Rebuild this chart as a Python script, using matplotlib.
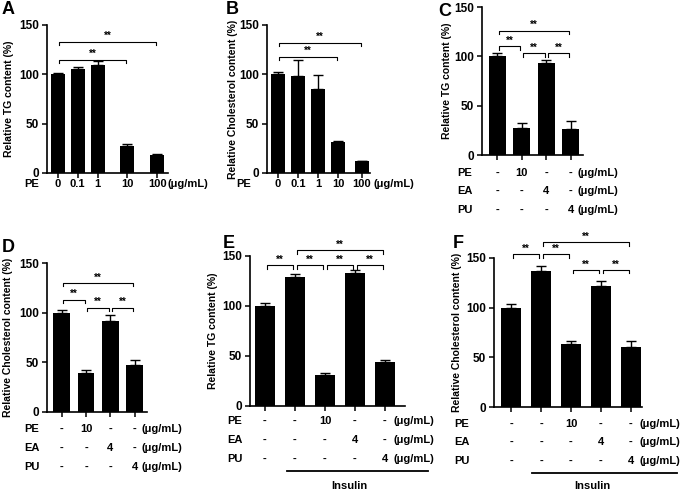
import numpy as np
import matplotlib
matplotlib.use("Agg")
import matplotlib.pyplot as plt
from matplotlib.transforms import blended_transform_factory

plt.rcParams["font.family"] = ["Liberation Sans", "DejaVu Sans"]
plt.rcParams["font.weight"] = "bold"

W, H = 680, 491
UNIT = "(\u03bcg/mL)"

# A: TG content vs PE dose
a_doses = ["0", "0.1", "1", "10", "100"]
a_vals = [100, 105, 109, 27.5, 18]
a_err = [1.5, 2, 5, 1.5, 1]
a_sig = [(0, 3, 115), (0, 4, 133)]

# B: cholesterol vs PE dose
b_doses = ["0", "0.1", "1", "10", "100"]
b_vals = [100, 98, 85, 31, 12]
b_err = [2.5, 17, 14, 1.5, 0.5]
b_sig = [(0, 3, 118), (0, 4, 132)]

# C: TG with PE / EA / PU
c_pe = ["-", "10", "-", "-"]
c_ea = ["-", "-", "4", "-"]
c_pu = ["-", "-", "-", "4"]
c_vals = [100, 27, 93, 26]
c_err = [3, 5, 3, 8]
c_sig = [(0, 1, 110), (1, 2, 103), (2, 3, 103), (0, 3, 126)]

# D: cholesterol with PE / EA / PU
d_vals = [100, 39, 92, 47]
d_err = [3, 3, 6, 5]
d_sig = [(0, 1, 113), (1, 2, 105), (2, 3, 105), (0, 3, 130)]

# E: TG with insulin
e_pe = ["-", "-", "10", "-", "-"]
e_ea = ["-", "-", "-", "4", "-"]
e_pu = ["-", "-", "-", "-", "4"]
e_vals = [100, 129, 31, 133, 44]
e_err = [3.5, 3, 2, 3, 2]
e_sig = [(0, 1, 141), (1, 2, 141), (2, 3, 141), (3, 4, 141), (1, 4, 156)]

# F: cholesterol with insulin
f_vals = [100, 137, 63, 122, 60]
f_err = [4, 5, 3, 5, 6]
f_sig = [(0, 1, 154), (1, 2, 154), (2, 3, 138), (3, 4, 138), (1, 4, 166)]

fig = plt.figure(figsize=(W / 100, H / 100), dpi=100)


def fy(y):
    return 1 - y / H


def panel(box, vals, errs, sig, xlim, width, ylabel, ylab_x, pos=None):
    left, right, top, bottom = box
    ax = fig.add_axes([left / W, fy(bottom), (right - left) / W, (bottom - top) / H])
    x = np.arange(len(vals)) if pos is None else np.array(pos)
    ax.bar(x, vals, width=width, color="black", zorder=2)
    ax.errorbar(x, vals, yerr=[np.zeros(len(vals)), errs], fmt="none",
                ecolor="black", elinewidth=1, capsize=3.5, capthick=1, zorder=1)
    ax.set_ylim(0, 150)
    ax.set_xlim(*xlim)
    ax.set_yticks([0, 50, 100, 150])
    ax.set_xticks(x)
    ax.set_xticklabels([])
    for s in ["top", "right"]:
        ax.spines[s].set_visible(False)
    for s in ["left", "bottom"]:
        ax.spines[s].set_linewidth(1.2)
    ax.tick_params(direction="out", length=3.5, width=1.1, labelsize=8.5, pad=2)
    for lab in ax.get_yticklabels():
        lab.set_fontweight("bold")
    # significance brackets
    k = 150 / (bottom - top)
    for i, j, h in sig:
        x0, x1 = x[i] + 0.06, x[j] - 0.06
        ax.plot([x0, x0, x1, x1], [h - 3.5 * k, h, h, h - 3.5 * k], color="black",
                lw=0.8, clip_on=False)
        ax.text((x0 + x1) / 2, h + 0.5 * k, "**", ha="center", va="bottom",
                fontsize=7, clip_on=False)
    fig.text(ylab_x / W, fy((top + bottom) / 2), ylabel, rotation=90,
             ha="center", va="center", fontsize=7.5, fontweight="bold")
    ax.pos = x
    return ax


def rows(ax, names, table, ys, name_x, fs=8, gap=0.28):
    tr = blended_transform_factory(ax.transData, fig.transFigure)
    for name, vals, y in zip(names, table, ys):
        fig.text(name_x / W, fy(y), name, ha="center", va="center",
                 fontsize=fs, fontweight="bold")
        for i, v in enumerate(vals):
            ax.text(ax.pos[i], fy(y), v, transform=tr, ha="center", va="center",
                    fontsize=fs, fontweight="bold")
        ax.text(ax.pos[-1] + gap, fy(y), UNIT, transform=tr, ha="left",
                va="center", fontsize=fs, fontweight="bold")


def letter(x, y, s):
    fig.text(x / W, fy(y), s, ha="center", va="center", fontsize=13,
             fontweight="bold")


axA = panel((47, 168, 25, 173), a_vals, a_err, a_sig, (-0.55, 5.55), 0.7,
            "Relative TG content (%)", 9, pos=[0, 1, 2, 3.5, 5])
rows(axA, ["PE"], [a_doses], [184], 32, gap=0.55)
letter(8, 10, "A")

axB = panel((267, 370, 25, 173), b_vals, b_err, b_sig, (-0.55, 4.6), 0.7,
            "Relative Cholesterol content (%)", 233, pos=[0, 1, 2, 3, 4.2])
rows(axB, ["PE"], [b_doses], [184], 244, gap=0.55)
letter(232, 10, "B")

axC = panel((482, 583, 7, 155), c_vals, c_err, c_sig, (-0.61, 3.49), 0.69,
            "Relative TG content (%)", 447)
rows(axC, ["PE", "EA", "PU"], [c_pe, c_ea, c_pu], [173, 191, 210], 465)
letter(445, 12, "C")

axD = panel((47, 147, 263, 412), d_vals, d_err, d_sig, (-0.6, 3.5), 0.69,
            "Relative Cholesterol content (%)", 8)
rows(axD, ["PE", "EA", "PU"], [c_pe, c_ea, c_pu], [429, 448, 467], 32)
letter(8, 247, "D")

axE = panel((250, 405, 256, 406), e_vals, e_err, e_sig, (-0.5, 4.67), 0.67,
            "Relative TG content (%)", 213)
rows(axE, ["PE", "EA", "PU"], [e_pe, e_ea, e_pu], [421, 440, 459], 235)
letter(229, 243, "E")
tr = blended_transform_factory(axE.transData, fig.transFigure)
axE.plot([0.73, 5.45], [fy(471)] * 2, transform=tr, color="black", lw=1.3,
         clip_on=False)
axE.text(2.8, fy(486), "Insulin", transform=tr, ha="center", va="center",
         fontsize=8, fontweight="bold")

axF = panel((494, 642, 258, 407), f_vals, f_err, f_sig, (-0.57, 4.37), 0.67,
            "Relative Cholesterol content (%)", 457)
rows(axF, ["PE", "EA", "PU"], [e_pe, e_ea, e_pu], [424, 442, 461], 462)
letter(458, 243, "F")
tr = blended_transform_factory(axF.transData, fig.transFigure)
axF.plot([0.7, 5.55], [fy(473)] * 2, transform=tr, color="black", lw=1.3,
         clip_on=False)
axF.text(2.7, fy(486), "Insulin", transform=tr, ha="center", va="center",
         fontsize=8, fontweight="bold")

fig.savefig("out.png", dpi=100)
